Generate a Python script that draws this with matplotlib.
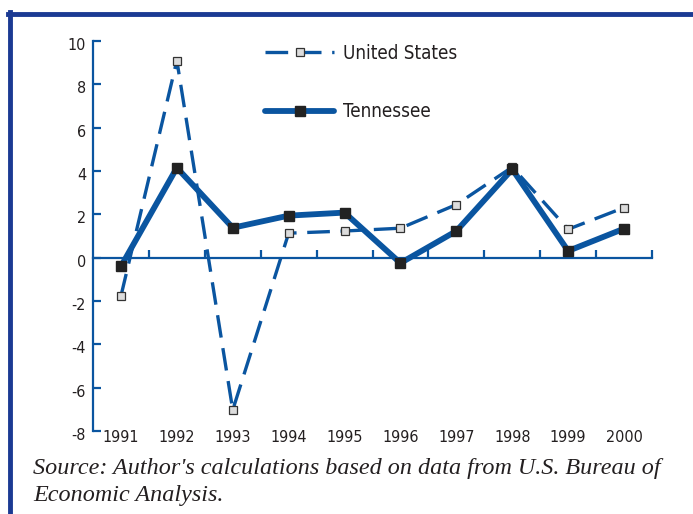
import matplotlib
matplotlib.use("Agg")
import matplotlib.pyplot as plt
from matplotlib.lines import Line2D
from matplotlib import font_manager
import matplotlib.transforms as mtrans
import numpy as np

years = ["1991", "1992", "1993", "1994", "1995", "1996", "1997", "1998", "1999", "2000"]
us = [-1.77, 9.10, -7.03, 1.13, 1.23, 1.36, 2.45, 4.18, 1.31, 2.31]
tn = [-0.40, 4.15, 1.38, 1.94, 2.08, -0.25, 1.23, 4.08, 0.31, 1.34]
yticks = [10, 8, 6, 4, 2, 0, -2, -4, -6, -8]
source_lines = ["Source: Author's calculations based on data from U.S. Bureau of",
                "Economic Analysis."]

flist = font_manager.fontManager.ttflist
names = {f.name for f in flist}
cond = [f for f in flist if f.name == "DejaVu Sans" and "condensed" in str(f.stretch)]
if cond:
    sans = {"family": "DejaVu Sans", "stretch": "condensed"}
elif "Liberation Sans Narrow" in names:
    sans = {"family": "Liberation Sans Narrow"}
else:
    sans = {"family": "Roboto"}

blue = "#0a55a0"
frame = "#1b3a93"
txt = "#231f20"

fig = plt.figure(figsize=(6.93, 5.14), dpi=100)
ax = fig.add_axes([93/693, 1-431/514, (652-93)/693, (431-41)/514])

x = np.arange(1, len(years)+1)
ax.plot(x, us, color=blue, lw=2.4, linestyle=(0, (6.8, 3.2)),
        marker="s", ms=5.5, mfc="#dcdcdc", mec="#333333", mew=0.9, label="United States", zorder=3)
ax.plot(x, tn, color=blue, lw=4.2, solid_capstyle="round",
        marker="s", ms=6.5, mfc="#222222", mec="#222222", label="Tennessee", zorder=4)

ax.set_xlim(0.5, 10.5)
ax.set_ylim(-8, 10)
for s in ["top", "right"]:
    ax.spines[s].set_visible(False)
ax.spines["bottom"].set_position(("data", 0))
for s in ["left", "bottom"]:
    ax.spines[s].set_color(blue)
    ax.spines[s].set_linewidth(1.6)

ax.set_yticks(yticks)
ax.set_yticklabels([str(v) for v in yticks], fontsize=11.5, color=txt, **sans)
ax.tick_params(axis="y", direction="in", length=6, width=1.6, color=blue, pad=5)
off = mtrans.ScaledTranslation(0, -3/100, fig.dpi_scale_trans)
for lab in ax.get_yticklabels():
    lab.set_transform(lab.get_transform() + off)

ax.set_xticks(x)
ax.set_xticklabels(years, fontsize=11.5, color=txt, va="top", **sans)
ax.set_xticks(np.arange(1.5, 11, 1.0), minor=True)
ax.tick_params(axis="x", which="major", length=0, pad=124)
ax.tick_params(axis="x", which="minor", direction="in", length=6, width=1.6, color=blue)

prop = dict(sans)
prop["size"] = 13.5
leg = ax.legend(loc="upper left", bbox_to_anchor=(265/693, 1-44/514), bbox_transform=fig.transFigure,
                frameon=False, handlelength=3.7, handletextpad=0.45, labelspacing=2.1,
                numpoints=1, borderpad=0, borderaxespad=0, prop=prop)
for t in leg.get_texts():
    t.set_color(txt)

for i, line in enumerate(source_lines):
    fig.text(33/693, 1-(474 + 27*i)/514, line, fontfamily="Liberation Serif", style="italic",
             fontsize=17.4, color=txt, va="baseline", ha="left")

fig.add_artist(Line2D([8/693, 1], [1-13.5/514, 1-13.5/514], color=frame, lw=3.5, transform=fig.transFigure))
fig.add_artist(Line2D([9.5/693, 9.5/693], [0, 1-12/514], color=frame, lw=3.5, transform=fig.transFigure))

fig.savefig("out.png", dpi=100)
